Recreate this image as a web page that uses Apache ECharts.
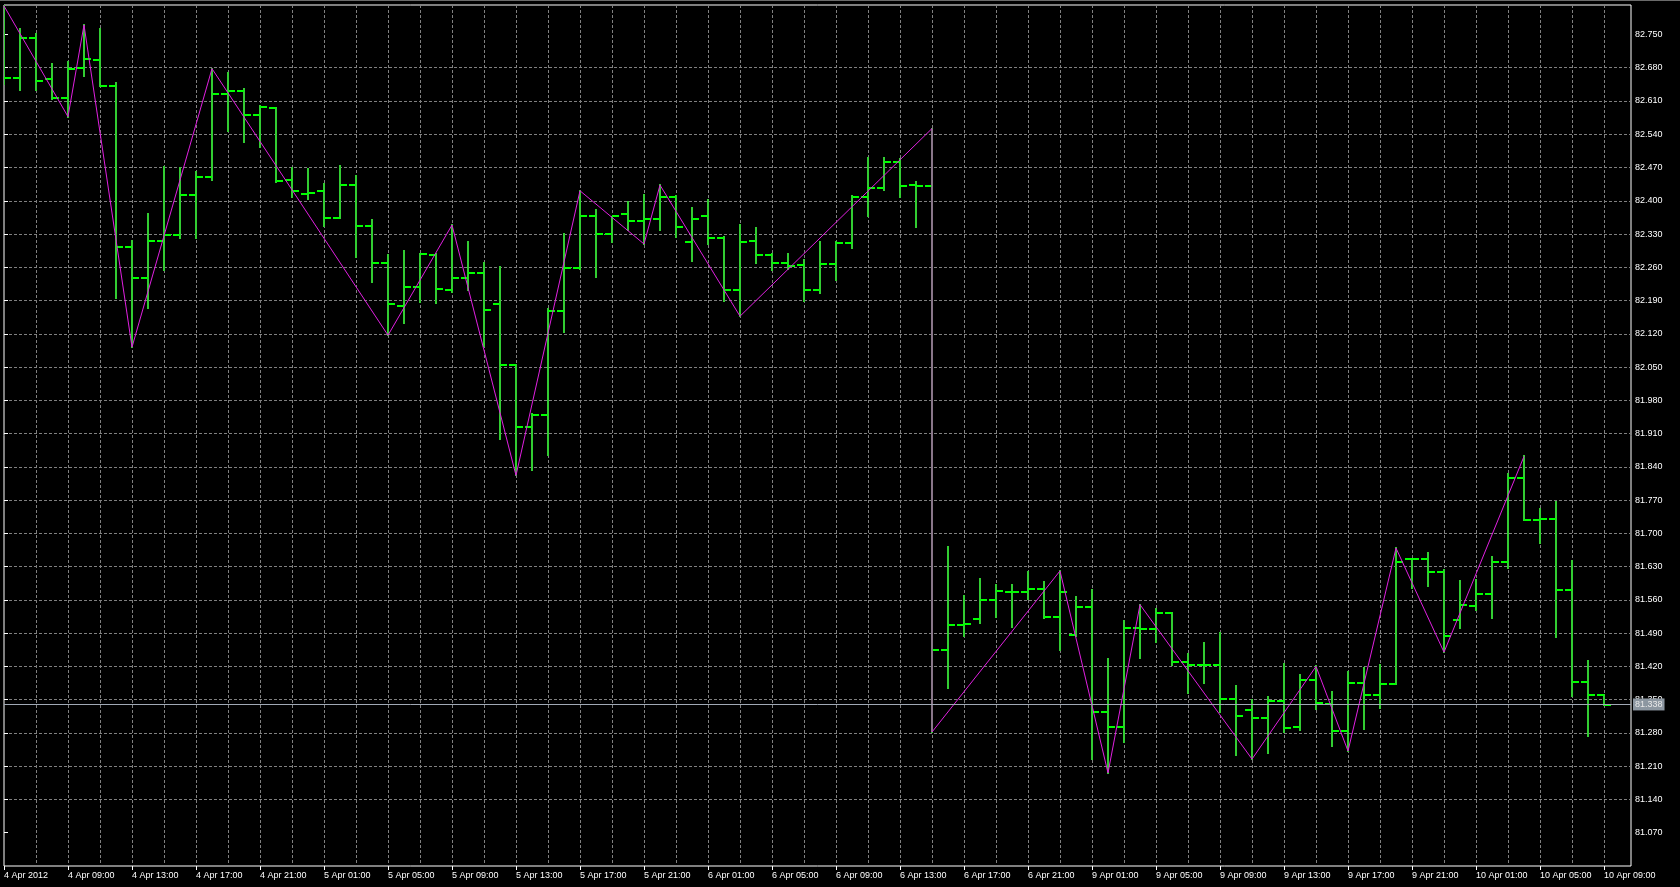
<!DOCTYPE html>
<html><head><meta charset="utf-8">
<script src="https://cdn.jsdelivr.net/npm/echarts@6/dist/echarts.min.js"></script>
<style>html,body{margin:0;padding:0;background:#000;overflow:hidden}#c{width:1680px;height:887px}</style>
</head><body><div id="c"></div><script>
// hourly bars, 4 Apr 2012 05:00 .. 10 Apr 2012 09:00
const openP = [82.660,82.659,82.743,82.657,82.616,82.680,82.696,82.641,82.303,82.237,
82.316,82.328,82.412,82.450,82.624,82.631,82.580,82.596,82.443,82.414,
82.421,82.364,82.434,82.347,82.269,82.178,82.219,82.286,82.212,82.238,
82.248,82.182,82.055,81.924,81.950,82.168,82.259,82.368,82.330,82.372,
82.358,82.362,82.408,82.313,82.368,82.321,82.212,82.316,82.286,82.268,
82.264,82.212,82.266,82.311,82.407,82.426,82.482,82.434,82.431,81.454,
81.507,81.519,81.559,81.577,81.576,81.583,81.524,81.487,81.546,81.324,
81.292,81.500,81.499,81.532,81.429,81.423,81.422,81.352,81.329,81.311,
81.348,81.292,81.392,81.341,81.285,81.385,81.359,81.382,81.646,81.646,
81.619,81.518,81.548,81.572,81.639,81.816,81.729,81.731,81.581,81.387,
81.359];
const highP = [82.810,82.761,82.750,82.688,82.693,82.770,82.761,82.647,82.316,82.373,
82.471,82.468,82.460,82.678,82.668,82.636,82.600,82.596,82.470,82.466,
82.436,82.473,82.452,82.359,82.285,82.294,82.289,82.288,82.349,82.313,
82.268,82.261,82.055,81.952,82.173,82.331,82.421,82.380,82.366,82.398,
82.413,82.433,82.410,82.384,82.401,82.324,82.349,82.342,82.288,82.288,
82.275,82.313,82.313,82.410,82.491,82.489,82.487,82.440,82.552,81.671,
81.569,81.603,81.591,81.592,81.618,81.597,81.621,81.566,81.580,81.435,
81.515,81.550,81.541,81.532,81.446,81.470,81.491,81.378,81.350,81.355,
81.425,81.401,81.420,81.366,81.408,81.416,81.423,81.669,81.647,81.658,
81.623,81.599,81.602,81.651,81.825,81.862,81.752,81.766,81.642,81.432,
81.359];
const lowP = [82.645,82.633,82.634,82.614,82.577,82.662,82.641,82.196,82.092,82.175,
82.254,82.321,82.321,82.443,82.546,82.524,82.513,82.440,82.407,82.403,
82.347,82.364,82.281,82.229,82.117,82.142,82.187,82.184,82.208,82.212,
82.095,81.899,81.822,81.834,81.864,82.124,82.257,82.240,82.313,82.338,
82.309,82.338,82.324,82.274,82.309,82.189,82.157,82.268,82.254,82.257,
82.189,82.206,82.233,82.300,82.368,82.422,82.407,82.345,81.282,81.375,
81.484,81.512,81.523,81.504,81.561,81.522,81.454,81.484,81.226,81.196,
81.262,81.437,81.471,81.422,81.365,81.385,81.325,81.233,81.225,81.238,
81.283,81.287,81.331,81.253,81.242,81.288,81.332,81.382,81.586,81.590,
81.450,81.500,81.539,81.522,81.628,81.729,81.679,81.481,81.357,81.273,
81.338];
const closeP = [82.659,82.743,82.653,82.616,82.678,82.698,82.641,82.303,82.237,82.316,
82.328,82.412,82.450,82.624,82.631,82.580,82.598,82.441,82.420,82.416,
82.364,82.434,82.347,82.269,82.182,82.219,82.288,82.214,82.238,82.248,
82.170,82.055,81.924,81.950,82.168,82.259,82.368,82.330,82.368,82.358,
82.361,82.408,82.344,82.361,82.321,82.212,82.313,82.285,82.269,82.262,
82.212,82.266,82.311,82.407,82.426,82.482,82.432,82.431,81.455,81.507,
81.509,81.559,81.579,81.577,81.583,81.524,81.576,81.546,81.325,81.292,
81.500,81.498,81.532,81.429,81.423,81.423,81.352,81.315,81.312,81.348,
81.290,81.392,81.342,81.285,81.385,81.359,81.382,81.640,81.646,81.619,
81.485,81.549,81.572,81.639,81.816,81.729,81.731,81.581,81.387,81.360,
81.338];
// ZigZag pivots (bar index, price)
const zzBar = [0,4,5,8,13,24,28,32,36,40,41,46,58,58,66,69,71,78,82,84,87,90,95];
const zzPrice = [82.810,82.577,82.770,82.092,82.678,82.117,82.349,81.822,82.421,82.309,82.433,82.157,82.552,81.282,81.621,81.196,81.550,81.225,81.420,81.242,81.669,81.450,81.862];
// time-axis labels, one every 4 bars
const timeLabels = ['4 Apr 2012','4 Apr 09:00','4 Apr 13:00','4 Apr 17:00','4 Apr 21:00','5 Apr 01:00','5 Apr 05:00','5 Apr 09:00','5 Apr 13:00','5 Apr 17:00','5 Apr 21:00','6 Apr 01:00','6 Apr 05:00','6 Apr 09:00','6 Apr 13:00','6 Apr 17:00','6 Apr 21:00','9 Apr 01:00','9 Apr 05:00','9 Apr 09:00','9 Apr 13:00','9 Apr 17:00','9 Apr 21:00','10 Apr 01:00','10 Apr 05:00','10 Apr 09:00'];
const priceTicks = [81.070,81.140,81.210,81.280,81.350,81.420,81.490,81.560,81.630,81.700,81.770,81.840,81.910,81.980,82.050,82.120,82.190,82.260,82.330,82.400,82.470,82.540,82.610,82.680,82.750];
const lastPrice = 81.338;

const ohlc = openP.map((o, i) => [i, o, highP[i], lowP[i], closeP[i]]);
const zz = zzBar.map((b, i) => [b, zzPrice[i]]);
const labelPos = timeLabels.map((t, i) => i * 4);

const chart = echarts.init(document.getElementById('c'), null, {renderer: 'canvas'});
const FONT = 'Liberation Sans';
const gridStyle = {color: '#808080', width: 1, type: [3, 2]};

chart.setOption({
  backgroundColor: '#000',
  animation: false,
  grid: {left: 4, right: 49, top: 5, bottom: 21, show: true, borderColor: '#ffffff', borderWidth: 1, backgroundColor: 'transparent'},
  xAxis: [
    {type: 'value', min: 0, max: 1627 / 16, interval: 2, position: 'bottom',
     axisLine: {show: false}, axisTick: {show: false}, axisLabel: {show: false},
     splitLine: {show: true, showMinLine: false, showMaxLine: false, lineStyle: gridStyle}},
    {type: 'value', min: 0, max: 1627 / 16, interval: 4, position: 'bottom',
     axisLine: {show: false},
     axisTick: {show: true, length: 4, lineStyle: {color: '#ffffff'}, customValues: labelPos},
     axisLabel: {show: true, customValues: labelPos, color: '#ffffff', fontFamily: FONT, fontSize: 9, margin: 5, align: 'left',
       formatter: v => timeLabels[Math.round(v / 4)] || ''},
     splitLine: {show: false}}
  ],
  yAxis: {type: 'value', position: 'right', min: 81.0, max: 82.812, interval: 0.07, scale: true,
    axisLine: {show: false},
    axisTick: {show: true, length: 4, lineStyle: {color: '#ffffff'}, customValues: priceTicks},
    axisLabel: {show: true, customValues: priceTicks, color: '#ffffff', fontFamily: FONT, fontSize: 9, margin: 4,
      formatter: v => v.toFixed(3)},
    splitLine: {show: true, showMinLine: false, showMaxLine: false, lineStyle: gridStyle}},
  series: [
    {type: 'custom', xAxisIndex: 0, clip: true, z: 3,
     data: ohlc, encode: {x: 0, y: [1, 2, 3, 4]},
     renderItem: function (params, api) {
       const x = api.value(0);
       const h = api.coord([x, api.value(2)]);
       const l = api.coord([x, api.value(3)]);
       const o = api.coord([x, api.value(1)]);
       const c = api.coord([x, api.value(4)]);
       const px = Math.round(h[0]);
       const oy = Math.round(o[1]), cy = Math.round(c[1]);
       return {type: 'group', children: [
         {type: 'line', shape: {x1: px, y1: Math.round(h[1]) - 1, x2: px, y2: Math.round(l[1]) + 1}, style: {stroke: '#32cd32', lineWidth: 2}},
         {type: 'line', shape: {x1: px - 7, y1: oy, x2: px, y2: oy}, style: {stroke: '#00ff00', lineWidth: 2}},
         {type: 'line', shape: {x1: px, y1: cy, x2: px + 7, y2: cy}, style: {stroke: '#00ff00', lineWidth: 2}}
       ]};
     }},
    {type: 'line', xAxisIndex: 0, data: zz, symbol: 'none', z: 4,
     lineStyle: {color: '#e020e0', width: 1},
     markLine: {silent: true, symbol: 'none', animation: false,
       data: [{yAxis: lastPrice}],
       lineStyle: {color: '#a0a8b4', width: 1, type: 'solid'},
       label: {show: true, position: 'end', distance: 2, formatter: lastPrice.toFixed(3),
         color: '#e8e8e8', backgroundColor: '#8c96a0', padding: [2, 2, 1, 2], fontFamily: FONT, fontSize: 9}}}
  ],
  graphic: [{type: 'rect', shape: {x: 0, y: 0, width: 1680, height: 1}, style: {fill: '#6a6a6a'}}]
});
</script></body></html>
